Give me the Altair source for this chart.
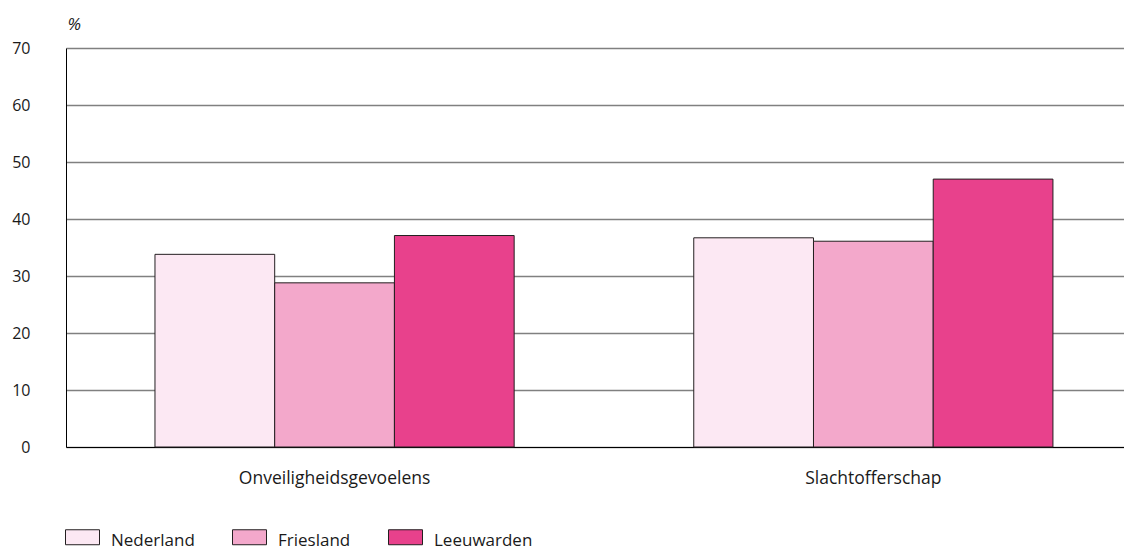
import altair as alt
import pandas as pd

categories = ["Onveiligheidsgevoelens", "Slachtofferschap"]
regions = ["Nederland", "Friesland", "Leeuwarden"]
nederland = [33.8, 36.7]
friesland = [28.8, 36.1]
leeuwarden = [37.1, 47.0]
colors = ["#fce8f3", "#f3a8cb", "#e8418c"]
y_ticks = [0, 10, 20, 30, 40, 50, 60, 70]

rows = []
for i, c in enumerate(categories):
    for r, vals in zip(regions, [nederland, friesland, leeuwarden]):
        rows.append({"categorie": c, "regio": r, "waarde": vals[i]})
df = pd.DataFrame(rows)

FONT = "Open Sans"
TXT = "#1a1a1a"

chart = alt.Chart(df).mark_bar(stroke="#231f20", strokeWidth=1).encode(
    x=alt.X(
        "categorie:N",
        sort=categories,
        scale=alt.Scale(paddingInner=1 / 3, paddingOuter=0.1485, align=0.556, round=False),
        axis=alt.Axis(
            title=None, labelAngle=0, ticks=False, domainColor="#000000",
            domainWidth=1, labelPadding=22, labelLimit=0, labelFontSize=17.5,
            labelFont=FONT, labelColor=TXT, grid=False,
        ),
    ),
    xOffset=alt.XOffset("regio:N", sort=regions),
    y=alt.Y(
        "waarde:Q",
        scale=alt.Scale(domain=[0, 70], nice=False),
        axis=alt.Axis(
            values=y_ticks, title="%", titleAngle=0, titleX=1, titleY=-19,
            titleAlign="left", titleBaseline="alphabetic", titleFontStyle="italic",
            titleFontWeight="normal", titleFontSize=17, titleFont=FONT, titleColor=TXT,
            ticks=False, labelPadding=36, labelFontSize=16, labelFont=FONT,
            labelColor=TXT, domainColor="#000000", domainWidth=1,
            grid=True, gridColor="#808080", gridWidth=1.3,
        ),
    ),
    fill=alt.Fill(
        "regio:N",
        sort=regions,
        scale=alt.Scale(domain=regions, range=colors),
        legend=alt.Legend(
            title=None, orient="none", direction="horizontal", legendX=-1, legendY=475,
            symbolType="M-1,-0.647H1V0.235H-1Z", symbolSize=1156,
            symbolStrokeColor="#231f20", symbolStrokeWidth=1, symbolOpacity=1,
            labelFontSize=17, labelFont=FONT, labelColor=TXT, labelOffset=11,
            columnPadding=35, padding=0, labelLimit=0,
        ),
    ),
).properties(
    width=1058,
    height=399,
    autosize=alt.AutoSizeParams(type="none"),
    padding={"left": 58, "top": 40, "right": 0, "bottom": 106},
).configure_view(stroke=None)

chart.save("out.html", embed_options={"renderer": "svg", "actions": False})
